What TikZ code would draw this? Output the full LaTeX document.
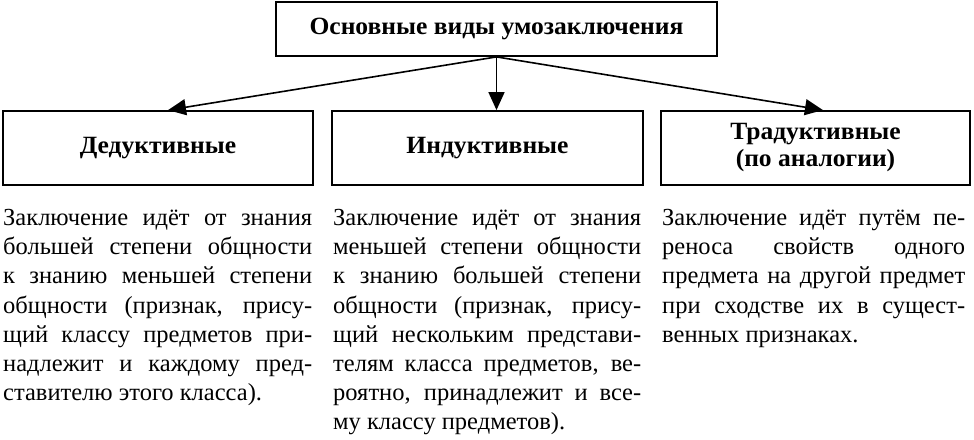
\documentclass[tikz,border=0pt]{standalone}
\usepackage{fontspec}
\setmainfont{Liberation Serif}[FakeStretch=1.03]
\newfontfamily\bodyfont{Liberation Serif}
\usetikzlibrary{arrows.meta,calc}
\newcommand{\jl}[1]{\hbox to \hsize{#1}}
\newcommand{\cwtext}[2]{\begin{minipage}[t]{#1}\bodyfont\fontsize{24.5}{29.2}\selectfont\spaceskip=0pt\xspaceskip=0pt\parindent=0pt #2\end{minipage}}
\begin{document}
\begin{tikzpicture}[x=1pt,y=-1pt,
  box/.style={draw, line width=1.8pt, inner sep=0pt, align=center,
    font=\bfseries\fontsize{24.8}{27}\selectfont},
  conn/.style={line width=1.6pt, -{Triangle[length=18pt,width=16pt]}},
  para/.style={inner sep=0pt, anchor=north west}]
\path[use as bounding box] (0,0) rectangle (974,439);
\node[box, minimum width=441pt, minimum height=54pt] (top) at (496.5,29) {Основные виды умозаключения};
\node[box, minimum width=310pt, minimum height=74pt] (ded) at (158,148) {Дедуктивные};
\node[box, minimum width=311pt, minimum height=74pt] (ind) at (487.5,148) {Индуктивные};
\node[box, minimum width=309pt, minimum height=74pt] (tra) at (815.5,148) {Традуктивные\\(по аналогии)};
\draw[conn] (top.south) -- ($(ded.north west)!0.532!(ded.north east)$);
\draw[conn] (top.south) -- (top.south |- ind.north);
\draw[conn] (top.south) -- ($(tra.north west)!0.524!(tra.north east)$);
\node[para] (tded) at (3,209) {\cwtext{309pt}{%
\jl{Заключение идёт от знания}
\jl{большей степени общности}
\jl{к знанию меньшей степени}
\jl{общности (признак, прису-}
\jl{щий классу предметов при-}
\jl{надлежит и каждому пред-}
\hbox{ставителю этого класса).}}};
\node[para] (tind) at (333,209) {\cwtext{308pt}{%
\jl{Заключение идёт от знания}
\jl{меньшей степени общности}
\jl{к знанию большей степени}
\jl{общности (признак, прису-}
\jl{щий нескольким представи-}
\jl{телям класса предметов, ве-}
\jl{роятно, принадлежит и все-}
\hbox{му классу предметов).}}};
\node[para] (ttra) at (662,209) {\cwtext{303pt}{%
\jl{Заключение идёт путём пе-}
\jl{реноса свойств одного}
\jl{предмета на другой предмет}
\jl{при сходстве их в сущест-}
\hbox{венных признаках.}}};
\end{tikzpicture}
\end{document}
